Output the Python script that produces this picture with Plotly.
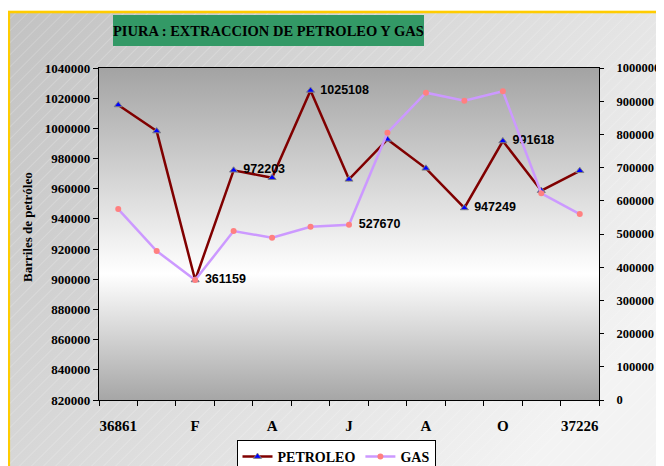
import base64
import plotly.graph_objects as go

# ---------------- data ----------------
categories = ["36861", "E", "F", "M", "A", "M", "J", "J", "A", "S", "O", "N", "37226"]
tick_labels = ["36861", "F", "A", "J", "A", "O", "37226"]
tick_index = [0, 2, 4, 6, 8, 10, 12]
petroleo = [1015500, 998200, 899500, 972203, 967300, 1025108, 966200,
            992700, 973500, 947249, 991618, 958700, 971900]
gas = [575000, 448800, 361159, 509000, 488900, 522000, 527670,
       805000, 925600, 901500, 929800, 622600, 560000]
petroleo_labelled = [3, 5, 9, 10]
gas_labelled = [2, 6]

# page offset of the figure div (default body margin)
OFF = 8
W, H = 656, 458
L, T = 99 - OFF, 68 - OFF
PW, PH = 500, 332
R = W - L - PW
B = H - T - PH

def px(x):   # page pixel -> paper
    return (x - OFF - L) / PW

def py(y):
    return (T + PH - (y - OFF)) / PH

serif = "Liberation Serif"
sans = "Liberation Sans"

x = list(range(len(categories)))
pet_text = [f"{v}" if i in petroleo_labelled else "" for i, v in enumerate(petroleo)]
gas_text = [f"{v}" if i in gas_labelled else "" for i, v in enumerate(gas)]

fig = go.Figure()
fig.add_trace(go.Scatter(
    x=x, y=petroleo, name="PETROLEO", mode="lines+markers",
    line=dict(color="#800000", width=2.5),
    marker=dict(symbol="triangle-up", size=7, color="#0000ff",
                line=dict(color="#808080", width=1)),
    hovertext=categories, yaxis="y"))
fig.add_trace(go.Scatter(
    x=x, y=gas, name="GAS", mode="lines+markers",
    line=dict(color="#cc99ff", width=2.5),
    marker=dict(symbol="circle", size=6, color="#ff8080"),
    hovertext=categories, yaxis="y2"))
label_font = dict(family=sans, size=12.5, color="black", weight="bold")
fig.add_trace(go.Scatter(
    x=x, y=petroleo, mode="markers+text", text=pet_text, textposition="middle right",
    marker=dict(size=14, color="rgba(0,0,0,0)"),
    textfont=label_font, showlegend=False, hoverinfo="skip", yaxis="y"))
fig.add_trace(go.Scatter(
    x=x, y=gas, mode="markers+text", text=gas_text, textposition="middle right",
    marker=dict(size=14, color="rgba(0,0,0,0)"),
    textfont=label_font, showlegend=False, hoverinfo="skip", yaxis="y2"))

# ---------------- backgrounds ----------------
paper_svg = f'''<svg xmlns="http://www.w3.org/2000/svg" width="{W}" height="{H}" viewBox="0 0 {W} {H}" preserveAspectRatio="none">
<defs>
<linearGradient id="g" x1="0" y1="0" x2="1" y2="0.6">
<stop offset="0" stop-color="#c2c2c2"/><stop offset="1" stop-color="#f3f3f3"/></linearGradient>
<pattern id="h" width="8.5" height="8.5" patternUnits="userSpaceOnUse" patternTransform="rotate(45)">
<line x1="0" y1="0" x2="0" y2="8.5" stroke="#ffffff" stroke-opacity="0.45" stroke-width="0.8"/></pattern>
</defs>
<rect width="{W}" height="{H}" fill="white"/>
<rect x="0.8" y="4" width="{W + 10}" height="{H + 10}" fill="url(#g)" stroke="#ffcc00" stroke-width="2.6"/>
<rect x="2" y="5.3" width="{W + 10}" height="{H + 10}" fill="url(#h)"/>
</svg>'''
plot_svg = '''<svg xmlns="http://www.w3.org/2000/svg" width="500" height="332" viewBox="0 0 500 332" preserveAspectRatio="none">
<defs><linearGradient id="v" x1="0" y1="0" x2="0" y2="1">
<stop offset="0" stop-color="#a3a3a3"/><stop offset="0.62" stop-color="#ffffff"/>
<stop offset="1" stop-color="#a6a6a6"/></linearGradient></defs>
<rect width="500" height="332" fill="url(#v)"/></svg>'''

def uri(s):
    return "data:image/svg+xml;base64," + base64.b64encode(s.encode()).decode()

images = [
    dict(source=uri(paper_svg), xref="paper", yref="paper", x=-L / PW, y=(T + PH) / PH,
         sizex=W / PW, sizey=H / PH, sizing="stretch", xanchor="left",
         yanchor="top", layer="below"),
    dict(source=uri(plot_svg), xref="x domain", yref="y domain", x=0, y=1,
         sizex=1, sizey=1, sizing="stretch", xanchor="left", yanchor="top",
         layer="below"),
]

shapes = [dict(type="rect", xref="paper", yref="paper", x0=px(113), x1=px(424),
               y0=py(46), y1=py(15), fillcolor="#339966", line=dict(width=0),
               layer="below")]

annotations = [
    dict(text="PIURA : EXTRACCION DE PETROLEO Y GAS", xref="paper", yref="paper",
         x=px(268.5), y=py(31), showarrow=False, xanchor="center", yanchor="middle",
         font=dict(family=serif, size=14.5, color="black", weight="bold")),
    dict(text="Barriles de petróleo", xref="paper", yref="paper", x=px(27),
         y=py(227), textangle=-90, showarrow=False, xanchor="center",
         yanchor="middle", font=dict(family=serif, size=13, color="black", weight="bold")),
    dict(text="Miles de pies cúbicos de gas", xref="paper", yref="paper", x=px(664),
         y=py(217), textangle=-90, showarrow=False, xanchor="center",
         yanchor="middle", font=dict(family=serif, size=13, color="black", weight="bold")),
]

fig.update_layout(
    width=W, height=H, autosize=False,
    margin=dict(l=L, r=R, t=T, b=B, autoexpand=False),
    paper_bgcolor="white", plot_bgcolor="white",
    images=images, shapes=shapes, annotations=annotations,
    showlegend=True,
    legend=dict(orientation="h", x=px(336), y=py(440), xanchor="center",
                yanchor="top", bgcolor="white", bordercolor="black", borderwidth=1,
                font=dict(family=serif, size=14, color="black", weight="bold"),
                tracegroupgap=0, itemwidth=30),
    xaxis=dict(range=[-0.5, len(categories) - 0.5], tickmode="array",
               tickvals=tick_index, ticktext=tick_labels, ticks="", showgrid=False,
               zeroline=False, showline=True, linecolor="black", linewidth=1.2,
               mirror=True, ticklabelstandoff=12,
               tickfont=dict(family=serif, size=15, color="black", weight="bold"),
               minor=dict(tickmode="linear", tick0=-0.5, dtick=1, ticks="outside",
                          ticklen=5, tickcolor="black", tickwidth=1, showgrid=False)),
    yaxis=dict(range=[820000, 1040000], dtick=20000, tick0=820000, tickformat="d",
               ticks="outside", ticklen=5, tickcolor="black", showgrid=False,
               zeroline=False, showline=True, linecolor="black", linewidth=1.2,
               tickfont=dict(family=serif, size=13, color="black", weight="bold")),
    yaxis2=dict(range=[0, 1000000], dtick=100000, tick0=0, tickformat="d",
                overlaying="y", side="right", ticks="outside", ticklen=4,
                tickcolor="black", showgrid=False, zeroline=False, showline=True,
                linecolor="black", linewidth=1.2, ticklabelstandoff=10,
                tickfont=dict(family=serif, size=12.5, color="black", weight="bold")),
)

fig.write_html("out.html")
